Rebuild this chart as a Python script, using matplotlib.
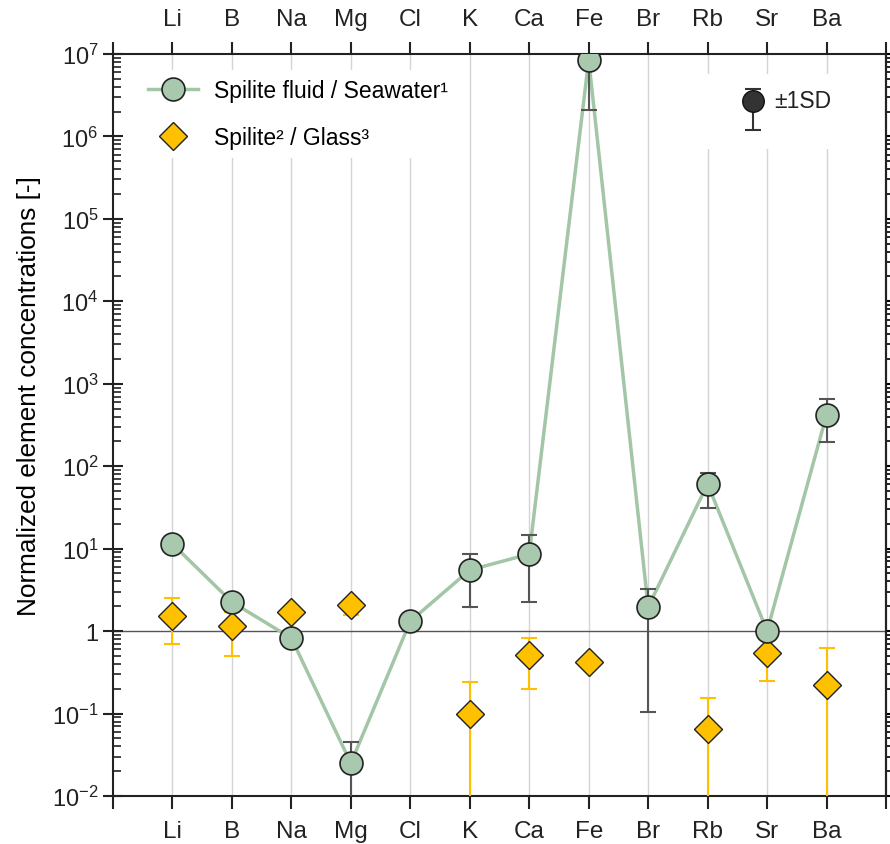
import matplotlib
matplotlib.use("Agg")
import matplotlib.pyplot as plt
import numpy as np
from matplotlib.patches import Rectangle
from matplotlib.ticker import FixedLocator, LogLocator, FuncFormatter, NullFormatter

plt.rcParams['font.family'] = ['Liberation Sans', 'DejaVu Sans']
plt.rcParams['mathtext.fontset'] = 'custom'
plt.rcParams['mathtext.rm'] = 'Liberation Sans'
plt.rcParams['mathtext.it'] = 'Liberation Sans:italic'
plt.rcParams['mathtext.bf'] = 'Liberation Sans:bold'

elements = ['Li', 'B', 'Na', 'Mg', 'Cl', 'K', 'Ca', 'Fe', 'Br', 'Rb', 'Sr', 'Ba']

# Spilite fluid / Seawater
fluid = [11.4, 2.25, 0.82, 0.025, 1.32, 5.5, 8.6, 8.5e6, 1.96, 61, 1.0, 420]
fluid_lo = [np.nan, np.nan, np.nan, 0.001, np.nan, 1.96, 2.25, 2.1e6, 0.104, 31, np.nan, 196]
fluid_hi = [np.nan, np.nan, np.nan, 0.045, np.nan, 8.6, 14.6, 3.0e7, 3.2, 83, np.nan, 660]

# Spilite / Glass
rock = [1.52, 1.15, 1.7, 2.1, np.nan, 0.1, 0.51, 0.42, np.nan, 0.065, 0.54, 0.22]
rock_lo = [0.70, 0.50, np.nan, 1.56, np.nan, 0.001, 0.20, np.nan, np.nan, 0.001, 0.25, 0.001]
rock_hi = [2.5, 1.7, np.nan, 2.1, np.nan, 0.24, 0.82, np.nan, np.nan, 0.155, 0.6, 0.62]

green = '#a8c9ad'
green_line = '#a3c6a6'
orange = '#ffc000'
dark = '#222222'


def err(v, lo, hi):
    v = np.array(v, float)
    lo = np.array(lo, float)
    hi = np.array(hi, float)
    low = np.where(np.isnan(lo), 0, v - lo)
    up = np.where(np.isnan(hi), 0, hi - v)
    return [np.nan_to_num(low), np.nan_to_num(up)]


x = np.arange(1, len(elements) + 1)

fig = plt.figure(figsize=(8.9, 8.45), dpi=100)
ax = fig.add_axes([0.127, 0.0568, 0.8685, 0.8782])

for xi in x:
    ax.axvline(xi, color='#d4d4d4', lw=1, zorder=0)
ax.axhline(1, color='#555555', lw=1, zorder=1)

ax.plot(x, fluid, '-', color=green_line, lw=2.5, zorder=2)
ax.errorbar(x, fluid, yerr=err(fluid, fluid_lo, fluid_hi), fmt='none',
            ecolor='#555555', elinewidth=1.5, capsize=6, capthick=1.5, zorder=3)
ax.errorbar(x, rock, yerr=err(rock, rock_lo, rock_hi), fmt='none',
            ecolor=orange, elinewidth=1.5, capsize=6, capthick=1.5, zorder=3)
ax.plot(x, fluid, 'o', ms=16.5, mfc=green, mec=dark, mew=1.2, zorder=5)
ax.plot(x, rock, 'D', ms=14, mfc=orange, mec=dark, mew=1.0, zorder=4)

# legend
h1, = ax.plot([], [], '-o', color=green_line, lw=2.5, ms=16.5, mfc=green, mec=dark, mew=1.2)
h2, = ax.plot([], [], 'D', ms=14, mfc=orange, mec=dark, mew=1.0)
leg = ax.legend([h1, h2], ['Spilite fluid / Seawater¹', 'Spilite² / Glass³'],
                loc='upper left', bbox_to_anchor=(0.018, 0.994), fontsize=16.5,
                frameon=True, facecolor='white', edgecolor='none', framealpha=1,
                handlelength=2.2, labelspacing=1.05, borderpad=0.4, handletextpad=0.7)
leg.set_zorder(6)

# +-1SD key
ax.add_patch(Rectangle((0.76, 0.872), 0.175, 0.101, transform=ax.transAxes,
                       facecolor='white', edgecolor='none', zorder=6))
ax.errorbar([0.828], [0.9367], yerr=[[0.039], [0.016]], fmt='o', ms=15.5,
            mfc='#333333', mec='#111111', ecolor='#333333', elinewidth=1.5,
            capsize=6, capthick=1.5, transform=ax.transAxes, zorder=7)
ax.text(0.855, 0.9367, '±1SD', transform=ax.transAxes, fontsize=16.5,
        va='center', ha='left', color=dark, zorder=7)

ax.set_yscale('log')
ax.set_ylim(1e-2, 1e7)
ax.set_xlim(0, 13)

ax.xaxis.set_major_locator(FixedLocator(np.arange(0, 14)))
ax.set_xticklabels([''] + elements + [''])
ax.tick_params(axis='x', which='major', direction='out', length=9, width=1.5,
               top=True, labeltop=True, labelsize=17.5, pad=8, colors=dark)


def yfmt(v, pos):
    e = int(round(np.log10(v)))
    if e == 0:
        return '1'
    return r'$10^{%d}$' % e


ax.yaxis.set_major_locator(LogLocator(base=10, numticks=20))
ax.yaxis.set_minor_locator(LogLocator(base=10, subs=np.arange(2, 10), numticks=20))
ax.yaxis.set_major_formatter(FuncFormatter(yfmt))
ax.yaxis.set_minor_formatter(NullFormatter())
ax.tick_params(axis='y', which='major', direction='inout', length=14, width=1.5,
               labelsize=17, colors=dark)
ax.tick_params(axis='y', which='minor', direction='in', length=6, width=1.2, colors=dark)

sec = ax.secondary_yaxis('right')
sec.tick_params(axis='y', which='major', direction='out', length=10, width=1.5, labelright=False)
sec.tick_params(axis='y', which='minor', direction='out', length=6, width=1.2)
sec.yaxis.set_major_formatter(NullFormatter())
sec.yaxis.set_minor_formatter(NullFormatter())
sec.spines['right'].set_linewidth(1.5)

for s in ax.spines.values():
    s.set_linewidth(1.5)
    s.set_color(dark)

ax.set_ylabel('Normalized element concentrations [-]', fontsize=18.8, labelpad=8)
ax.yaxis.label.set_y(0.54)

fig.savefig('out.png', dpi=100)
